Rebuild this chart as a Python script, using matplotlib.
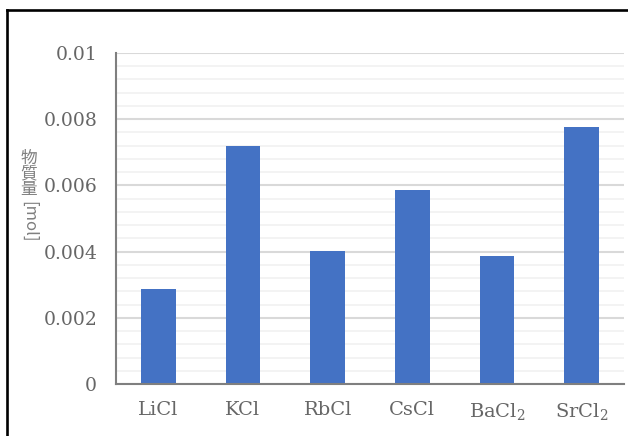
import matplotlib
matplotlib.use("Agg")
import matplotlib.pyplot as plt
from matplotlib.lines import Line2D
from matplotlib.ticker import MultipleLocator, FixedLocator, FuncFormatter

# Amount of substance per salt
compounds = ["LiCl", "KCl", "RbCl", "CsCl", "BaCl$_2$", "SrCl$_2$"]
amounts_mol = [0.00287, 0.00720, 0.00403, 0.00587, 0.00388, 0.00775]
y_ticks = [0, 0.002, 0.004, 0.006, 0.008, 0.01]
y_tick_labels = ["0", "0.002", "0.004", "0.006", "0.008", "0.01"]
y_label_chars = ["物", "質", "量"]
y_label_unit = "[mol]"

plt.rcParams["mathtext.fontset"] = "dejavuserif"

W, H = 628, 436
fig = plt.figure(figsize=(W / 100, H / 100), dpi=100)
fig.patch.set_facecolor("white")

left, right, top, bottom = 116, 624, 53, 384
ax = fig.add_axes([left / W, 1 - bottom / H, (right - left) / W, (bottom - top) / H])

x = range(len(compounds))
ax.bar(x, amounts_mol, width=0.41, color="#4472C4", zorder=3)

ax.set_xlim(-0.5, len(compounds) - 0.5)
ax.set_ylim(0, 0.01)

# major and minor horizontal grid
ax.yaxis.set_major_locator(FixedLocator(y_ticks))
ax.yaxis.set_major_formatter(FuncFormatter(lambda v, pos: y_tick_labels[pos] if pos is not None and pos < len(y_tick_labels) else ""))
ax.yaxis.set_minor_locator(MultipleLocator(0.0004))
ax.grid(axis="y", which="major", color="#d9d9d9", linewidth=1.5, zorder=0)
ax.grid(axis="y", which="minor", color="#f2f2f2", linewidth=1.3, zorder=0)

ax.set_xticks(list(x))
ax.set_xticklabels(compounds)

for side in ("top", "right"):
    ax.spines[side].set_visible(False)
for side in ("left", "bottom"):
    ax.spines[side].set_color("#7f7f7f")
    ax.spines[side].set_linewidth(1.5)
    ax.spines[side].set_zorder(4)

ax.tick_params(axis="y", which="both", length=0, pad=13.5, labelsize=13.5,
               labelcolor="#666666")
ax.tick_params(axis="x", which="both", length=0, pad=12, labelsize=14,
               labelcolor="#666666")
for lbl in ax.get_xticklabels() + ax.get_yticklabels():
    lbl.set_fontfamily("DejaVu Serif")

# vertical axis title: upright kanji stacked, followed by the rotated unit
label_x = 29 / W
cjk = ["Noto Sans CJK JP", "DejaVu Sans"]
char_pitch = 15.5
for i, ch in enumerate(y_label_chars):
    fig.text(label_x, 1 - (158 + i * char_pitch) / H, ch, ha="center", va="center",
             fontsize=12, color="#7f7f7f", family=cjk)
fig.text(label_x, 1 - 222 / H, y_label_unit, ha="center", va="center", rotation=-90,
         fontsize=12, color="#7f7f7f", family=cjk)

# outer frame
frame_kw = dict(color="black", linewidth=1.9, transform=fig.transFigure)
fig.add_artist(Line2D([7 / W, 7 / W], [0, 1 - 10 / H], **frame_kw))
fig.add_artist(Line2D([7 / W, 1], [1 - 10 / H, 1 - 10 / H], **frame_kw))

fig.savefig("out.png", dpi=100)
